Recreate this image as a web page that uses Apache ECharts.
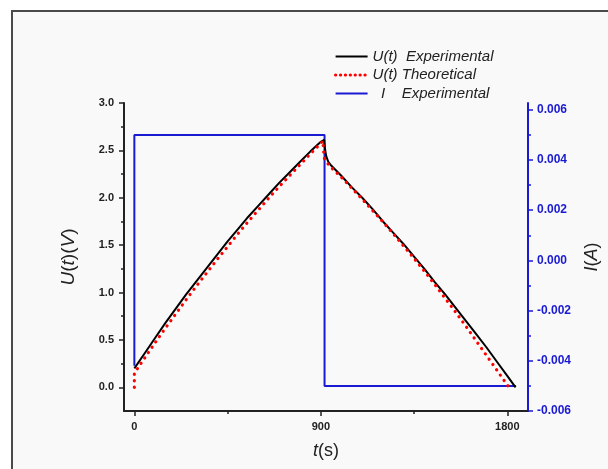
<!DOCTYPE html>
<html>
<head>
<meta charset="utf-8">
<script src="https://cdn.jsdelivr.net/npm/echarts@6/dist/echarts.min.js"></script>
<style>
html,body{margin:0;padding:0;background:#fff;overflow:hidden;}
#chart{width:608px;height:469px;}
</style>
</head>
<body>
<div id="chart"></div>
<script>
// ---- data ----
var seriesNames = ['U(t)  Experimental', 'U(t) Theoretical', '  I    Experimental'];

var tExp = [0, 50, 100, 150, 200, 250, 300, 350, 400, 450, 500, 550, 600, 650, 700, 750, 800, 850, 900, 916, 920, 926, 936, 950,
            1000, 1050, 1100, 1150, 1200, 1250, 1300, 1350, 1400, 1450, 1500, 1550, 1600, 1650, 1700, 1750, 1800, 1840];
var uExp = [0.20, 0.36, 0.52, 0.68, 0.83, 0.98, 1.12, 1.26, 1.40, 1.54, 1.67, 1.80, 1.92, 2.04, 2.16, 2.27, 2.38, 2.49, 2.59, 2.61, 2.52, 2.44, 2.38, 2.34,
            2.23, 2.11, 2.00, 1.88, 1.75, 1.63, 1.51, 1.38, 1.25, 1.11, 0.98, 0.84, 0.70, 0.56, 0.42, 0.27, 0.12, 0.00];

var tTheo = [0, 0, 25, 50, 100, 150, 200, 250, 300, 350, 400, 450, 500, 550, 600, 650, 700, 750, 800, 850, 900, 910, 914, 916, 930, 950,
             1000, 1050, 1100, 1150, 1200, 1250, 1300, 1350, 1400, 1450, 1500, 1550, 1600, 1650, 1700, 1750, 1808];
var uTheo = [0.00, 0.15, 0.23, 0.31, 0.47, 0.625, 0.775, 0.925, 1.07, 1.21, 1.35, 1.485, 1.62, 1.75, 1.875, 2.00, 2.12, 2.235, 2.35, 2.465, 2.575, 2.60, 2.58, 2.42, 2.37, 2.32,
             2.215, 2.10, 1.985, 1.865, 1.745, 1.62, 1.49, 1.36, 1.225, 1.085, 0.94, 0.795, 0.645, 0.49, 0.335, 0.18, 0.00];

var tCur = [0, 0, 918, 918, 1842];
var iCur = [-0.0042, 0.005, 0.005, -0.005, -0.005];

var xTicks = [0, 900, 1800];
var xMinor = [450, 1350];
var uTicks = [0, 0.5, 1.0, 1.5, 2.0, 2.5, 3.0];
var uMinor = [0.25, 0.75, 1.25, 1.75, 2.25, 2.75];
var iTicks = [-0.006, -0.004, -0.002, 0, 0.002, 0.004, 0.006];
var iMinor = [-0.005, -0.003, -0.001, 0.001, 0.003, 0.005];

// ---- build ----
function pairs(a, b) { return a.map(function (v, k) { return [v, b[k]]; }); }

var FONT = 'Arial, "Liberation Sans", sans-serif';
var BLUE = '#1a1ad2';

var chart = echarts.init(document.getElementById('chart'), null, {renderer: 'canvas', width: 608, height: 469});

var option = {
  backgroundColor: '#ffffff',
  animation: false,
  graphic: [{
    type: 'rect', z: -10, silent: true,
    shape: {x: 12, y: 11, width: 700, height: 600},
    style: {fill: '#f9f9f9', stroke: '#4a4a4a', lineWidth: 2}
  }],
  grid: {left: 124, right: 80, top: 103, bottom: 58, containLabel: false, outerBoundsMode: 'none'},
  legend: {
    orient: 'vertical', left: 329, top: 44,
    itemWidth: 32, itemHeight: 14, itemGap: 3.5,
    data: [
      {name: seriesNames[0]},
      {name: seriesNames[1], lineStyle: {color: '#ff0000', width: 3.2, type: [0.1, 4.8], cap: 'round'}},
      {name: seriesNames[2]}
    ],
    itemStyle: {opacity: 0},
    textStyle: {fontFamily: FONT, fontSize: 15, fontStyle: 'italic', color: '#222'},
    selectedMode: false
  },
  xAxis: [{
    type: 'value', min: -50, max: 1900,
    name: '{i|t}(s)', nameLocation: 'middle', nameGap: 31,
    nameTextStyle: {fontFamily: FONT, fontSize: 18, color: '#222',
      rich: {i: {fontFamily: FONT, fontSize: 18, fontStyle: 'italic', color: '#222'}}},
    axisLine: {show: true, onZero: false, lineStyle: {color: '#222', width: 2}},
    axisTick: {show: true, inside: false, length: 5, customValues: xTicks, lineStyle: {color: '#222', width: 1.5}},
    axisLabel: {show: true, customValues: xTicks, margin: 10, fontFamily: FONT, fontSize: 11, fontWeight: 'bold', color: '#222',
      formatter: function (v) { return String(v); }},
    splitLine: {show: false}
  }, {
    type: 'value', min: -50, max: 1900, position: 'bottom',
    axisLine: {show: false, onZero: false}, axisLabel: {show: false}, splitLine: {show: false},
    axisTick: {show: true, length: 3, customValues: xMinor, lineStyle: {color: '#222', width: 1.5}}
  }],
  yAxis: [{
    type: 'value', position: 'left', min: -0.25, max: 3.0,
    name: '{i|U}({i|t})({i|V})', nameLocation: 'middle', nameGap: 46, nameRotate: 90,
    nameTextStyle: {fontFamily: FONT, fontSize: 19, color: '#222',
      rich: {i: {fontFamily: FONT, fontSize: 19, fontStyle: 'italic', color: '#222'}}},
    axisLine: {show: true, onZero: false, lineStyle: {color: '#222', width: 2}},
    axisTick: {show: true, length: 5, customValues: uTicks, lineStyle: {color: '#222', width: 1.5}},
    axisLabel: {show: true, customValues: uTicks, margin: 10, fontFamily: FONT, fontSize: 11, fontWeight: 'bold', color: '#222',
      formatter: function (v) { return v.toFixed(1); }},
    splitLine: {show: false}
  }, {
    type: 'value', position: 'right', min: -0.006, max: 0.00627,
    name: '{i|I}({i|A})', nameLocation: 'middle', nameGap: 55, nameRotate: 90,
    nameTextStyle: {fontFamily: FONT, fontSize: 18, color: '#222',
      rich: {i: {fontFamily: FONT, fontSize: 18, fontStyle: 'italic', color: '#222'}}},
    axisLine: {show: true, onZero: false, lineStyle: {color: BLUE, width: 2}},
    axisTick: {show: true, length: 5, customValues: iTicks, lineStyle: {color: BLUE, width: 1.5}},
    axisLabel: {show: true, customValues: iTicks, margin: 9, fontFamily: FONT, fontSize: 12, fontWeight: 'bold', color: BLUE,
      formatter: function (v) { return (Math.abs(v) < 1e-9 ? 0 : v).toFixed(3); }},
    splitLine: {show: false}
  }, {
    type: 'value', position: 'left', min: -0.25, max: 3.0,
    axisLine: {show: false, onZero: false}, axisLabel: {show: false}, splitLine: {show: false},
    axisTick: {show: true, length: 3, customValues: uMinor, lineStyle: {color: '#222', width: 1.5}}
  }, {
    type: 'value', position: 'right', min: -0.006, max: 0.00627,
    axisLine: {show: false, onZero: false}, axisLabel: {show: false}, splitLine: {show: false},
    axisTick: {show: true, length: 3, customValues: iMinor, lineStyle: {color: BLUE, width: 1.5}}
  }],
  series: [{
    name: seriesNames[0], type: 'line', xAxisIndex: 0, yAxisIndex: 0, z: 3,
    data: pairs(tExp, uExp), showSymbol: false, symbol: 'none', smooth: false,
    lineStyle: {color: '#000', width: 2}, itemStyle: {color: '#000'}
  }, {
    name: seriesNames[1], type: 'line', xAxisIndex: 0, yAxisIndex: 0, z: 4,
    data: pairs(tTheo, uTheo), showSymbol: false, symbol: 'none', smooth: false,
    lineStyle: {color: '#ff0000', width: 3.2, type: [0.1, 6.4], cap: 'round'}, itemStyle: {color: '#ff0000'}
  }, {
    name: seriesNames[2], type: 'line', xAxisIndex: 0, yAxisIndex: 1, z: 2,
    data: pairs(tCur, iCur), showSymbol: false, symbol: 'none', smooth: false,
    lineStyle: {color: BLUE, width: 2}, itemStyle: {color: BLUE}
  }]
};
chart.setOption(option);
</script>
</body>
</html>
